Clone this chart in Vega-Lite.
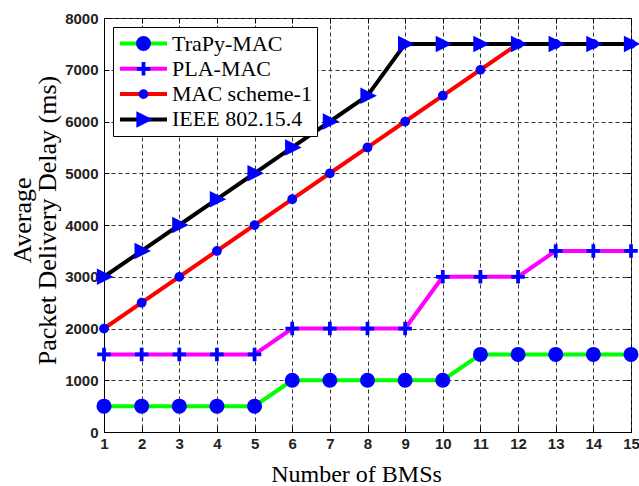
{
  "$schema": "https://vega.github.io/schema/vega-lite/v6.json",
  "autosize": {"type": "none"},
  "padding": {"left": 104, "top": 18, "right": 8, "bottom": 54},
  "width": 527,
  "height": 414,
  "background": "white",
  "config": {
    "view": {"stroke": "#000000", "strokeWidth": 1},
    "axis": {
      "labelFont": "Liberation Sans",
      "labelFontWeight": "bold",
      "labelFontSize": 15,
      "labelColor": "#222222",
      "titleFont": "Liberation Serif",
      "titleFontWeight": "normal",
      "titleColor": "#000000",
      "domainColor": "#000000",
      "tickColor": "#000000",
      "gridColor": "#333333",
      "gridDash": [4, 3],
      "gridOpacity": 1,
      "gridWidth": 1
    },
    "legend": {
      "labelFont": "Liberation Serif",
      "labelFontSize": 22,
      "labelColor": "#000000",
      "labelLimit": 400
    }
  },
  "data": {
    "values": [
      {"x": 1, "y": 500, "series": "TraPy-MAC"},
      {"x": 2, "y": 500, "series": "TraPy-MAC"},
      {"x": 3, "y": 500, "series": "TraPy-MAC"},
      {"x": 4, "y": 500, "series": "TraPy-MAC"},
      {"x": 5, "y": 500, "series": "TraPy-MAC"},
      {"x": 6, "y": 1000, "series": "TraPy-MAC"},
      {"x": 7, "y": 1000, "series": "TraPy-MAC"},
      {"x": 8, "y": 1000, "series": "TraPy-MAC"},
      {"x": 9, "y": 1000, "series": "TraPy-MAC"},
      {"x": 10, "y": 1000, "series": "TraPy-MAC"},
      {"x": 11, "y": 1500, "series": "TraPy-MAC"},
      {"x": 12, "y": 1500, "series": "TraPy-MAC"},
      {"x": 13, "y": 1500, "series": "TraPy-MAC"},
      {"x": 14, "y": 1500, "series": "TraPy-MAC"},
      {"x": 15, "y": 1500, "series": "TraPy-MAC"},
      {"x": 1, "y": 1500, "series": "PLA-MAC"},
      {"x": 2, "y": 1500, "series": "PLA-MAC"},
      {"x": 3, "y": 1500, "series": "PLA-MAC"},
      {"x": 4, "y": 1500, "series": "PLA-MAC"},
      {"x": 5, "y": 1500, "series": "PLA-MAC"},
      {"x": 6, "y": 2000, "series": "PLA-MAC"},
      {"x": 7, "y": 2000, "series": "PLA-MAC"},
      {"x": 8, "y": 2000, "series": "PLA-MAC"},
      {"x": 9, "y": 2000, "series": "PLA-MAC"},
      {"x": 10, "y": 3000, "series": "PLA-MAC"},
      {"x": 11, "y": 3000, "series": "PLA-MAC"},
      {"x": 12, "y": 3000, "series": "PLA-MAC"},
      {"x": 13, "y": 3500, "series": "PLA-MAC"},
      {"x": 14, "y": 3500, "series": "PLA-MAC"},
      {"x": 15, "y": 3500, "series": "PLA-MAC"},
      {"x": 1, "y": 2000, "series": "MAC scheme-1"},
      {"x": 2, "y": 2500, "series": "MAC scheme-1"},
      {"x": 3, "y": 3000, "series": "MAC scheme-1"},
      {"x": 4, "y": 3500, "series": "MAC scheme-1"},
      {"x": 5, "y": 4000, "series": "MAC scheme-1"},
      {"x": 6, "y": 4500, "series": "MAC scheme-1"},
      {"x": 7, "y": 5000, "series": "MAC scheme-1"},
      {"x": 8, "y": 5500, "series": "MAC scheme-1"},
      {"x": 9, "y": 6000, "series": "MAC scheme-1"},
      {"x": 10, "y": 6500, "series": "MAC scheme-1"},
      {"x": 11, "y": 7000, "series": "MAC scheme-1"},
      {"x": 12, "y": 7500, "series": "MAC scheme-1"},
      {"x": 13, "y": 7500, "series": "MAC scheme-1"},
      {"x": 14, "y": 7500, "series": "MAC scheme-1"},
      {"x": 15, "y": 7500, "series": "MAC scheme-1"},
      {"x": 1, "y": 3000, "series": "IEEE 802.15.4"},
      {"x": 2, "y": 3500, "series": "IEEE 802.15.4"},
      {"x": 3, "y": 4000, "series": "IEEE 802.15.4"},
      {"x": 4, "y": 4500, "series": "IEEE 802.15.4"},
      {"x": 5, "y": 5000, "series": "IEEE 802.15.4"},
      {"x": 6, "y": 5500, "series": "IEEE 802.15.4"},
      {"x": 7, "y": 6000, "series": "IEEE 802.15.4"},
      {"x": 8, "y": 6500, "series": "IEEE 802.15.4"},
      {"x": 9, "y": 7500, "series": "IEEE 802.15.4"},
      {"x": 10, "y": 7500, "series": "IEEE 802.15.4"},
      {"x": 11, "y": 7500, "series": "IEEE 802.15.4"},
      {"x": 12, "y": 7500, "series": "IEEE 802.15.4"},
      {"x": 13, "y": 7500, "series": "IEEE 802.15.4"},
      {"x": 14, "y": 7500, "series": "IEEE 802.15.4"},
      {"x": 15, "y": 7500, "series": "IEEE 802.15.4"}
    ]
  },
  "resolve": {"axis": {"x": "independent", "y": "independent"}},
  "layer": [
    {
      "mark": {"type": "line", "strokeWidth": 4, "strokeCap": "butt", "strokeJoin": "round"},
      "encoding": {
        "x": {
          "field": "x", "type": "quantitative",
          "scale": {"domain": [1, 15], "nice": false, "zero": false},
          "axis": {
            "values": [1, 2, 3, 4, 5, 6, 7, 8, 9, 10, 11, 12, 13, 14, 15],
            "format": "d",
            "title": "Number of BMSs",
            "titleFontSize": 24,
            "titlePadding": 11,
            "titleX": 252,
            "tickSize": -5,
            "labelPadding": 9,
            "grid": true,
            "labelFlush": false
          }
        },
        "y": {
          "field": "y", "type": "quantitative",
          "scale": {"domain": [0, 8000], "nice": false},
          "axis": {
            "values": [0, 1000, 2000, 3000, 4000, 5000, 6000, 7000, 8000],
            "format": "d",
            "title": ["Average", "Packet Delivery Delay (ms)"],
            "titleFontSize": 26,
            "titleLineHeight": 25,
            "titleAngle": -90,
            "titleAlign": "center",
            "titleBaseline": "middle",
            "titleX": -82,
            "titleY": 202,
            "tickSize": -5,
            "labelPadding": 11,
            "grid": true,
            "labelFlush": false
          }
        },
        "color": {
          "field": "series", "type": "nominal",
          "scale": {
            "domain": ["TraPy-MAC", "PLA-MAC", "MAC scheme-1", "IEEE 802.15.4"],
            "range": ["#00ff00", "#ff00ff", "#ff0000", "#000000"]
          },
          "legend": {
            "title": null,
            "orient": "none",
            "legendX": 9,
            "legendY": 9,
            "padding": 5,
            "strokeColor": "#000000",
            "fillColor": "#ffffff",
            "symbolType": "stroke",
            "symbolSize": 2209,
            "symbolStrokeWidth": 4,
            "labelOffset": 3,
            "clipHeight": 23,
            "rowPadding": 2.3,
            "zindex": 1
          }
        }
      }
    },
    {
      "mark": {"type": "point", "filled": true, "fill": "#0000ff", "opacity": 1, "size": 225, "strokeWidth": 0},
      "encoding": {
        "x": {"field": "x", "type": "quantitative", "axis": null},
        "y": {"field": "y", "type": "quantitative", "axis": null},
        "shape": {
          "field": "series", "type": "nominal",
          "sort": ["TraPy-MAC", "PLA-MAC", "MAC scheme-1", "IEEE 802.15.4"],
          "scale": {
            "range": [
              "circle",
              "M-0.25,-0.9H0.25V-0.25H0.9V0.25H0.25V0.9H-0.25V0.25H-0.9V-0.25H-0.25Z",
              "M-0.65,0A0.65,0.65 0 1,0 0.65,0A0.65,0.65 0 1,0 -0.65,0Z",
              "M-0.95,-1.1L1.25,0L-0.95,1.1Z"
            ]
          },
          "legend": {
            "title": null,
            "orient": "none",
            "legendX": 9,
            "legendY": 9,
            "padding": 5,
            "strokeColor": null,
            "fillColor": null,
            "symbolSize": 225,
            "symbolStrokeWidth": 0,
            "symbolFillColor": "#0000ff",
            "symbolOffset": 14.5,
            "labelExpr": "''",
            "clipHeight": 23,
            "rowPadding": 2.3,
            "zindex": 2
          }
        }
      }
    },
    {
      "mark": {"type": "point", "opacity": 0},
      "encoding": {
        "x": {
          "field": "x", "type": "quantitative",
          "axis": {
            "orient": "top",
            "values": [1, 2, 3, 4, 5, 6, 7, 8, 9, 10, 11, 12, 13, 14, 15],
            "labels": false, "grid": false, "domain": false,
            "tickSize": -5, "title": null
          }
        },
        "y": {
          "field": "y", "type": "quantitative",
          "axis": {
            "orient": "right",
            "values": [0, 1000, 2000, 3000, 4000, 5000, 6000, 7000, 8000],
            "labels": false, "grid": false, "domain": false,
            "tickSize": -5, "title": null
          }
        }
      }
    }
  ]
}
